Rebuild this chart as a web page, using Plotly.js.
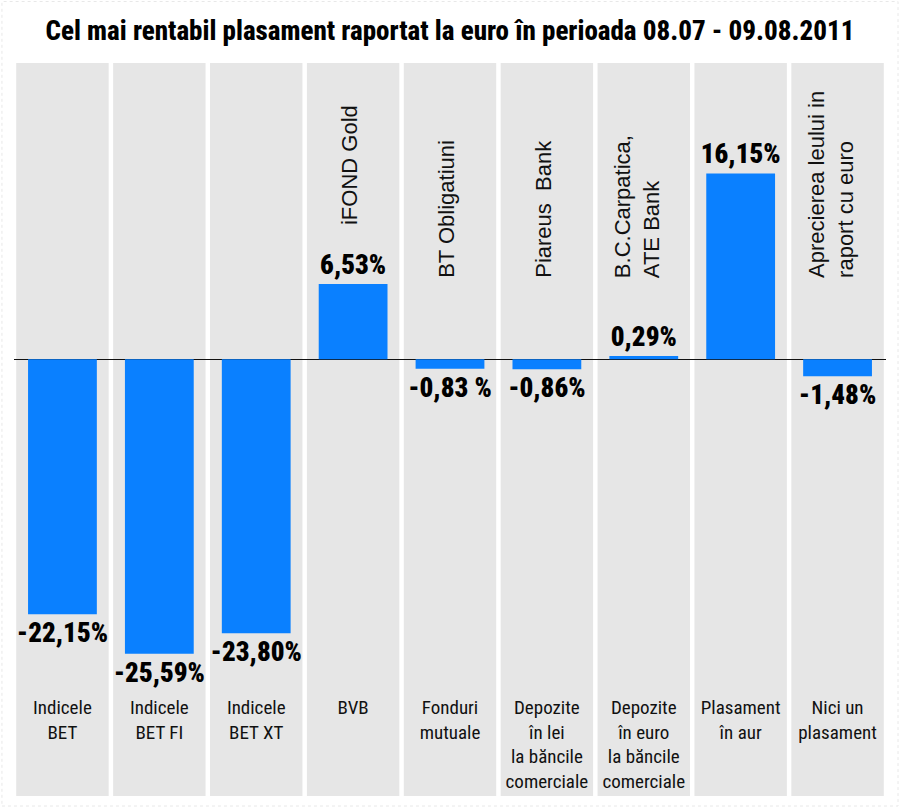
<!DOCTYPE html>
<html>
<head>
<meta charset="utf-8">
<script src="https://cdn.plot.ly/plotly-3.0.1.min.js"></script>
<style>html,body{margin:0;padding:0;background:#fff;}#chart{width:900px;height:810px;}</style>
</head>
<body>
<div id="chart"></div>
<script>
var categories = ['Indicele<br>BET','Indicele<br>BET FI','Indicele<br>BET XT','BVB','Fonduri<br>mutuale','Depozite<br>în lei<br>la băncile<br>comerciale','Depozite<br>în euro<br>la băncile<br>comerciale','Plasament<br>în aur','Nici un<br>plasament'];
var values = [-22.15, -25.59, -23.80, 6.53, -0.83, -0.86, 0.29, 16.15, -1.48];
var valueLabels = ['-22,15%','-25,59%','-23,80%','6,53%','-0,83 %','-0,86%','0,29%','16,15%','-1,48%'];
var subLabels = ['', '', '', 'iFOND Gold', 'BT Obligatiuni', 'Piareus  Bank', 'B.C.Carpatica,<br>ATE Bank', '', 'Aprecierea leului in<br>raport cu euro'];

var cond = '"Roboto Condensed", Roboto, "DejaVu Sans Condensed", sans-serif';

var shapes = [];
categories.forEach(function(c, i){
  shapes.push({type:'rect', xref:'x', yref:'paper', x0:i-0.477, x1:i+0.477, y0:-0.1616, y1:1,
    fillcolor:'#e6e6e6', line:{width:0}, layer:'below'});
});
shapes.push({type:'rect', xref:'paper', yref:'paper', x0:-0.0138, x1:1.0138, y0:-0.1775, y1:1.0975,
  fillcolor:'rgba(0,0,0,0)', line:{color:'#e8e8e8', width:1, dash:'dot'}, layer:'below'});

var annotations = [];
subLabels.forEach(function(t, i){
  if (!t) return;
  annotations.push({x: categories[i], y: (i === 3 ? 11.5 : 6.9), xref:'x', yref:'y', text: t,
    textangle: -90, showarrow:false, xanchor:'center', yanchor:'bottom', align:'left',
    xshift: (t.indexOf('<br>') >= 0 ? -6 : -3),
    font:{family:'"Liberation Sans", Arial, sans-serif', size:22, color:'#111'}});
});

var trace = {
  type:'bar', x: categories, y: values, text: valueLabels,
  textposition:'outside', constraintext:'none', cliponaxis:false,
  textfont:{family:cond, size:27, color:'#000', weight:900},
  marker:{color:'#0a80ff', line:{width:0}}, width:0.71, hoverinfo:'none'
};

var layout = {
  width:900, height:810,
  margin:{l:14, r:14, t:63, b:116},
  paper_bgcolor:'#fff', plot_bgcolor:'rgba(0,0,0,0)',
  title:{text:'Cel mai rentabil plasament raportat la euro în perioada 08.07 - 09.08.2011',
    x:0.5, xanchor:'center', y:1-31/810, yanchor:'middle', yref:'container',
    font:{family:cond, size:27, color:'#000', weight:800}},
  xaxis:{type:'category', range:[-0.5, 8.5], showgrid:false, zeroline:false, showline:false, ticks:'',
    tickfont:{family:cond, size:19, color:'#111'}, fixedrange:true},
  yaxis:{range:[-29.08, 25.74], showgrid:false, zeroline:true, zerolinecolor:'#111', zerolinewidth:1.5,
    showticklabels:false, showline:false, ticks:'', fixedrange:true},
  shapes: shapes, annotations: annotations, showlegend:false, bargap:0.29
};

Plotly.newPlot('chart', [trace], layout, {displayModeBar:false, staticPlot:true});
</script>
</body>
</html>
